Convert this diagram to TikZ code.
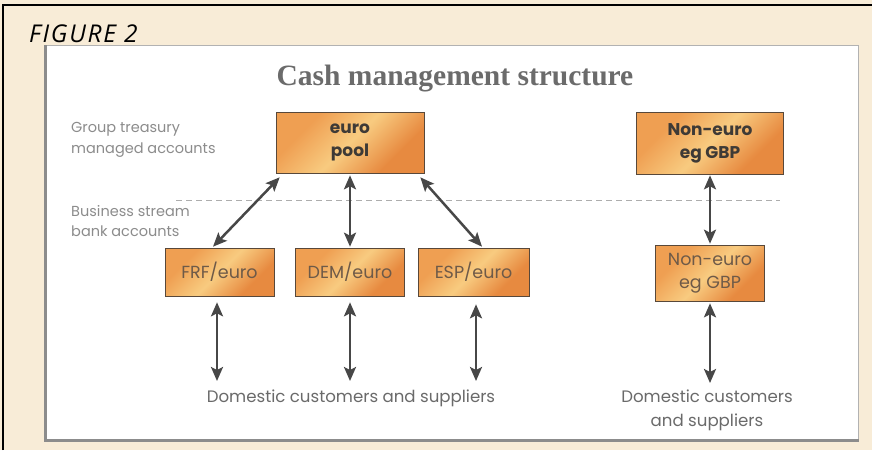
\documentclass[tikz,border=0pt]{standalone}
\usepackage{fontspec}
\setmainfont{Liberation Serif}
\newfontfamily\geo{Poppins}
\newfontfamily\figfont[LetterSpace=7]{Open Sans}
\usetikzlibrary{arrows.meta,calc}
\definecolor{cream}{HTML}{F8ECD7}
\definecolor{boxA}{HTML}{EF9F52}
\definecolor{boxB}{HTML}{F8CB80}
\definecolor{boxC}{HTML}{E78A40}
\definecolor{inkdark}{HTML}{3E3A36}
\definecolor{inkbox}{HTML}{6E5A48}
\definecolor{inklight}{HTML}{8C8C8C}
\definecolor{inkmid}{HTML}{6A6A6A}
\definecolor{arrowgray}{HTML}{474747}
\pgfdeclarehorizontalshading{boxshade}{100bp}{color(0bp)=(boxA); color(30bp)=(boxA); color(50bp)=(boxB); color(70bp)=(boxC); color(100bp)=(boxC)}
\tikzset{
  acct/.style={draw=inkbox!80!black, line width=0.6pt, shading=boxshade, shading angle=-45,
    align=center, inner sep=0pt},
  poolbox/.style={acct, minimum width=148pt, minimum height=61pt,
    font=\geo\bfseries\fontsize{17}{23}\selectfont, text=inkdark},
  subbox/.style={acct, minimum width=109pt, minimum height=48pt,
    font=\geo\fontsize{17.5}{23}\selectfont, text=inkbox},
  sidelabel/.style={anchor=west, align=left, text=inklight, inner sep=0pt,
    font=\geo\fontsize{14.5}{20.5}\selectfont},
  endlabel/.style={align=center, text=inkmid, inner sep=0pt,
    font=\geo\fontsize{16.6}{24}\selectfont},
  twoway/.style={arrowgray, line width=2.5pt,
    {Stealth[length=14pt,width=12pt,inset=3pt]}-{Stealth[length=14pt,width=12pt,inset=3pt]}}
}
\begin{document}
\begin{tikzpicture}[x=1pt,y=-1pt]
\useasboundingbox (0,0) rectangle (872,450);
% page background and frame
\fill[cream] (0,0) rectangle (872,450);
\draw[black, line width=1.4pt] (3,450) -- (3,5) -- (872,5);
\node[anchor=base west, inner sep=0pt, font=\figfont\itshape\fontsize{24.5}{28}\selectfont]
  (fig) at (29,42) {FIGURE 2};
% white panel with its shadowed edge
\fill[black!45] (44,45) rectangle (859,442);
\fill[white] (47,45) rectangle (858,439);
\draw[black!30, line width=0.6pt] (47,45) -- (858,45) -- (858,439);
% title
\node[font=\fontsize{29.5}{32}\selectfont\bfseries, text=black!58] (title) at (455,79)
  {Cash management structure};
% level labels
\node[sidelabel] (lvl1) at (71,140) {Group treasury\\managed accounts};
\node[sidelabel] (lvl2) at (71,221) {Business stream\\bank accounts};
% boundary between the two levels
\draw[black!32, line width=1pt, dash pattern=on 6pt off 4pt] (176,200) -- (780,200);
% accounts
\node[poolbox] (pool) at (350,142.5) {euro\\pool};
\node[poolbox, minimum width=147pt, minimum height=62pt] (ngpool) at (710,143) {Non-euro\\eg GBP};
\node[subbox] (frf) at (219.5,272) {FRF/euro};
\node[subbox] (dem) at (350,272) {DEM/euro};
\node[subbox, minimum width=111pt] (esp) at (473.5,272) {ESP/euro};
\node[subbox, minimum height=56pt] (ngbp) at (710,273) {Non-euro\\eg GBP};
% customers and suppliers
\node[endlabel] (domL) at (351,398) {Domestic customers and suppliers};
\node[endlabel] (domR) at (707,410) {Domestic customers\\and suppliers};
\coordinate (c1) at (217,381);
\coordinate (c2) at (350,381);
\coordinate (c3) at (476,381);
\coordinate (c4) at (710,383);
% flows between accounts
\draw[twoway] ($(frf.north)+(-6.5,-1)$) -- ($(pool.south west)+(4,4)$);
\draw[twoway] ($(dem.north)+(0,-1)$) -- ($(pool.south)+(0,2)$);
\draw[twoway] ($(esp.north)+(8.5,-1)$) -- ($(pool.south east)+(-4,4)$);
\draw[twoway] ($(ngbp.north)+(0,-1)$) -- ($(ngpool.south)+(0,1)$);
% flows to customers and suppliers
\draw[twoway] ($(frf.south)+(-2.5,6)$) -- (c1);
\draw[twoway] ($(dem.south)+(0,6)$) -- (c2);
\draw[twoway] ($(esp.south)+(2.5,8)$) -- (c3);
\draw[twoway] ($(ngbp.south)+(0,2)$) -- (c4);
\end{tikzpicture}
\end{document}
